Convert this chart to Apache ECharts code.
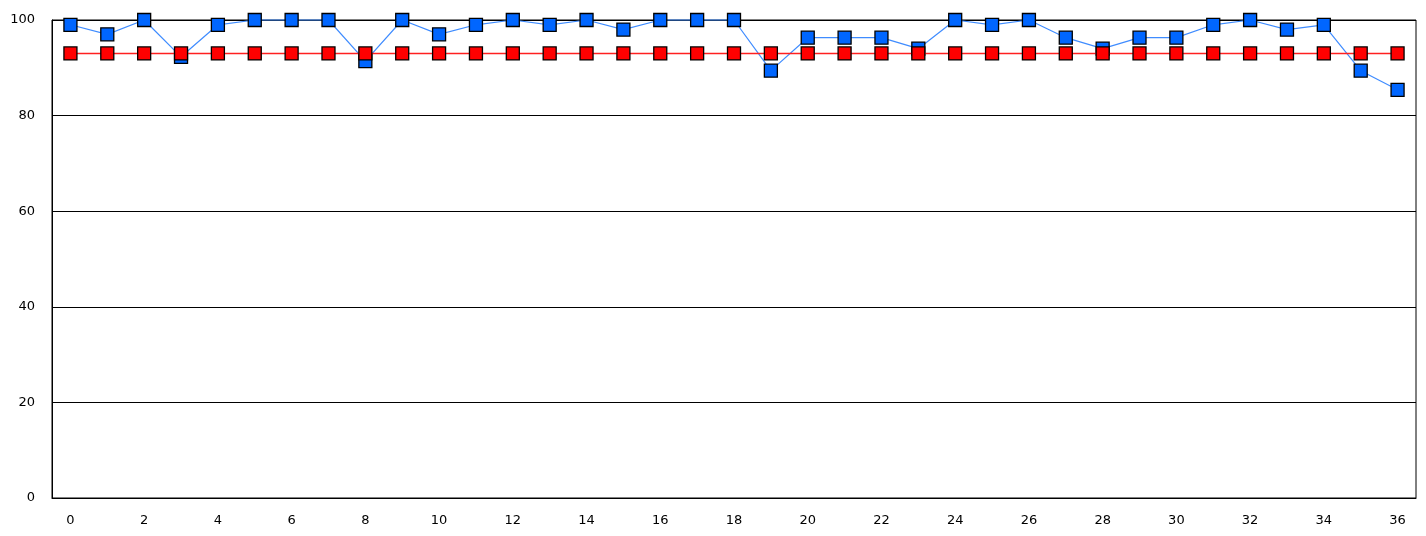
<!DOCTYPE html>
<html>
<head>
<meta charset="utf-8">
<script src="https://cdn.jsdelivr.net/npm/echarts@6/dist/echarts.min.js"></script>
<style>
html,body{margin:0;padding:0;background:#fff;}
#chart{width:1426px;height:536px;}
</style>
</head>
<body>
<div id="chart"></div>
<script>
const categories = ['0','1','2','3','4','5','6','7','8','9','10','11','12','13','14','15','16','17','18','19','20','21','22','23','24','25','26','27','28','29','30','31','32','33','34','35','36'];
const blueValues = [99,97,100,92.3,99,100,100,100,91.4,100,97,99,100,99,100,98,100,100,100,89.4,96.3,96.3,96.3,94,100,99,100,96.3,94,96.3,96.3,99,100,98,99,89.4,85.4];
const redValues = [93,93,93,93,93,93,93,93,93,93,93,93,93,93,93,93,93,93,93,93,93,93,93,93,93,93,93,93,93,93,93,93,93,93,93,93,93];
const yTicks = {min: 0, max: 100, interval: 20};

const chart = echarts.init(document.getElementById('chart'), null, {renderer: 'canvas'});
const font = {fontFamily: 'DejaVu Sans', fontSize: 13, color: '#000'};
chart.setOption({
  animation: false,
  backgroundColor: '#fff',
  grid: {left: 52, right: 10, top: 20, bottom: 38, show: true, borderColor: '#000', borderWidth: 1, containLabel: false},
  xAxis: {
    type: 'category',
    data: categories,
    boundaryGap: true,
    axisLine: {lineStyle: {color: '#000', width: 1}},
    axisTick: {show: false},
    axisLabel: Object.assign({interval: 1, margin: 16}, font),
    splitLine: {show: false}
  },
  yAxis: {
    type: 'value',
    min: yTicks.min, max: yTicks.max, interval: yTicks.interval,
    axisLine: {show: true, lineStyle: {color: '#000', width: 1}},
    axisTick: {show: false},
    axisLabel: Object.assign({margin: 17}, font),
    splitLine: {show: true, lineStyle: {color: '#000', width: 1}}
  },
  series: [
    {
      type: 'line', data: blueValues, z: 2,
      symbol: 'rect', symbolSize: 13, showAllSymbol: true,
      lineStyle: {color: '#3f8cff', width: 1.2},
      itemStyle: {color: '#0066ff', borderColor: '#000', borderWidth: 1.3},
      clip: false
    },
    {
      type: 'line', data: redValues, z: 3,
      symbol: 'rect', symbolSize: 13, showAllSymbol: true,
      lineStyle: {color: '#ff2020', width: 1.5},
      itemStyle: {color: '#ff0000', borderColor: '#000', borderWidth: 1.3},
      clip: false
    }
  ]
});
</script>
</body>
</html>
